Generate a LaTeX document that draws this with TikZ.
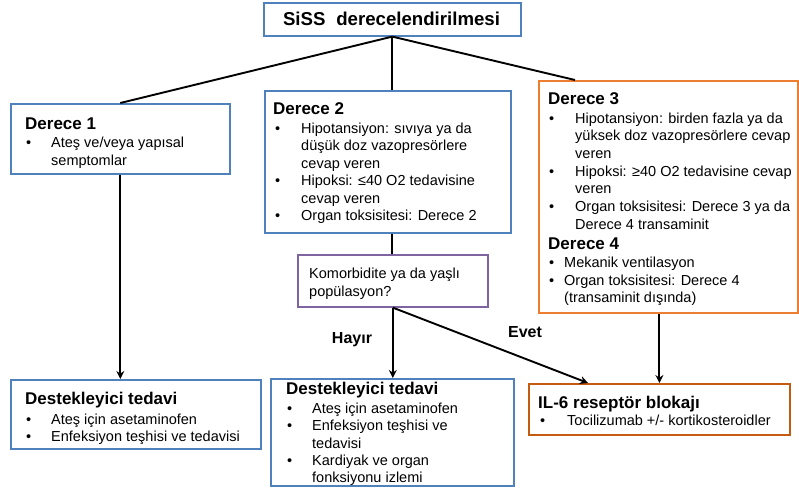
\documentclass[tikz,border=0pt]{standalone}
\usepackage{fontspec}
\usepackage{graphicx}
\setmainfont{Liberation Sans}
\usetikzlibrary{arrows.meta,calc}
\definecolor{bblue}{HTML}{4F81BD}
\definecolor{borange}{HTML}{ED7D31}
\definecolor{dorange}{HTML}{C55A11}
\definecolor{bpurple}{HTML}{8064A2}
\newcommand\bul{\makebox[26pt][l]{•}}
\newcommand\bulb{\makebox[15pt][l]{•}}
\begin{document}
\begin{tikzpicture}[x=1pt,y=-1pt,
  boxa/.style={draw=bblue,line width=1.6pt,inner sep=0,anchor=north west},
  boxo/.style={draw=borange,line width=1.8pt,inner sep=0,anchor=north west},
  boxd/.style={draw=dorange,line width=1.8pt,inner sep=0,anchor=north west},
  boxp/.style={draw=bpurple,line width=1.6pt,inner sep=0,anchor=north west},
  txt/.style={inner sep=0,anchor=base west,font=\fontsize{14.5}{17}\selectfont},
  head/.style={inner sep=0,anchor=base west,font=\fontsize{17}{20}\selectfont\bfseries},
  lab/.style={inner sep=0,font=\fontsize{16}{19}\selectfont\bfseries},
  conn/.style={line width=1.9pt,black},
  arr/.style={conn,-{Stealth[length=8pt,width=8pt]}}]
\useasboundingbox[fill=white] (0,0) rectangle (799,490);

% boxes
\node[boxa,minimum width=257pt,minimum height=33pt] (title) at (263,2) {};
\node[inner sep=0,font=\fontsize{19}{22}\selectfont\bfseries] (ttext) at (391.5,19) {\resizebox{217pt}{!}{SiSS\hspace{11pt}derecelendirilmesi}};

\node[boxa,minimum width=219pt,minimum height=70pt] (d1) at (10,103) {};
\node[boxa,minimum width=246pt,minimum height=142pt] (d2) at (264,90) {};
\node[boxo,minimum width=259pt,minimum height=232pt] (d3) at (538,80) {};
\node[boxp,minimum width=190pt,minimum height=52pt] (km) at (297,254) {};
\node[boxa,minimum width=250pt,minimum height=69pt] (b1) at (10,379) {};
\node[boxa,minimum width=243pt,minimum height=107pt] (b2) at (270,378) {};
\node[boxd,minimum width=261pt,minimum height=51pt] (il) at (528,383) {};

% Derece 1
\node[head] (d1h) at (25,129) {Derece 1};
\node[txt] (d1a) at (26,147) {\makebox[25pt][l]{•}Ateş ve/veya yapısal};
\node[txt] (d1b) at (51,165) {semptomlar};

% Derece 2
\node[head] (d2h) at (273,114) {Derece 2};
\node[txt] (d2a) at (275,133) {\bul Hipotansiyon: sıvıya ya da};
\node[txt] (d2b) at (301,150.5) {düşük doz vazopresörlere};
\node[txt] (d2c) at (301,168) {cevap veren};
\node[txt] (d2d) at (275,185.5) {\bul Hipoksi: ≤40 O2 tedavisine};
\node[txt] (d2e) at (301,203) {cevap veren};
\node[txt] (d2f) at (275,220.5) {\bul Organ toksisitesi: Derece 2};

% Derece 3 / 4
\node[head] (d3h) at (548,104) {Derece 3};
\node[txt] (d3a) at (549,123) {\bul Hipotansiyon: birden fazla ya da};
\node[txt] (d3b) at (575,140.7) {yüksek doz vazopresörlere cevap};
\node[txt] (d3c) at (575,158.4) {veren};
\node[txt] (d3d) at (549,176.1) {\bul Hipoksi: ≥40 O2 tedavisine cevap};
\node[txt] (d3e) at (575,193.8) {veren};
\node[txt] (d3f) at (549,211.5) {\bul Organ toksisitesi: Derece 3 ya da};
\node[txt] (d3g) at (575,229.2) {Derece 4 transaminit};
\node[head] (d4h) at (548,249) {Derece 4};
\node[txt] (d4a) at (549,267) {\bulb Mekanik ventilasyon};
\node[txt] (d4b) at (549,285) {\bulb Organ toksisitesi: Derece 4};
\node[txt] (d4c) at (564,302) {(transaminit dışında)};

% Komorbidite
\node[txt] (kma) at (309,278) {Komorbidite ya da yaşlı};
\node[txt] (kmb) at (309,296) {popülasyon?};

% bottom left
\node[head] (b1h) at (25,404) {Destekleyici tedavi};
\node[txt] (b1a) at (26,424) {\makebox[25pt][l]{•}Ateş için asetaminofen};
\node[txt] (b1b) at (26,441) {\makebox[25pt][l]{•}Enfeksiyon teşhisi ve tedavisi};

% bottom middle
\node[head] (b2h) at (286,394) {Destekleyici tedavi};
\node[txt] (b2a) at (287,413) {\makebox[25pt][l]{•}Ateş için asetaminofen};
\node[txt] (b2b) at (287,430) {\makebox[25pt][l]{•}Enfeksiyon teşhisi ve};
\node[txt] (b2c) at (312,448) {tedavisi};
\node[txt] (b2d) at (287,465) {\makebox[25pt][l]{•}Kardiyak ve organ};
\node[txt] (b2e) at (312,482) {fonksiyonu izlemi};

% IL-6
\node[head] (ilh) at (538,408) {IL-6 reseptör blokajı};
\node[txt] (ila) at (540,425) {\makebox[27pt][l]{•}Tocilizumab +/- kortikosteroidler};

% labels
\node[lab] (hayir) at (352,340) {Hayır};
\node[lab] (evet) at (525,332) {Evet};

% connectors
\coordinate (d3in) at ($(d3.north west)+(37,0)$);
\coordinate (ilin) at ($(il.north west)+(60,0)$);
\draw[conn] (title.south) -- (d1.north);
\draw[conn] (title.south) -- (title.south |- d2.north);
\draw[conn] (title.south) -- (d3in);
\draw[conn] (title.south |- d2.south) -- (title.south |- km.north);
\draw[arr] (d1.south) -- (d1.south |- b1.north);
\draw[arr] (km.south) -- (km.south |- b2.north);
\draw[arr] (km.south) -- (ilin);
\draw[arr] (il.north |- d3.south) -- (il.north);
\end{tikzpicture}
\end{document}
